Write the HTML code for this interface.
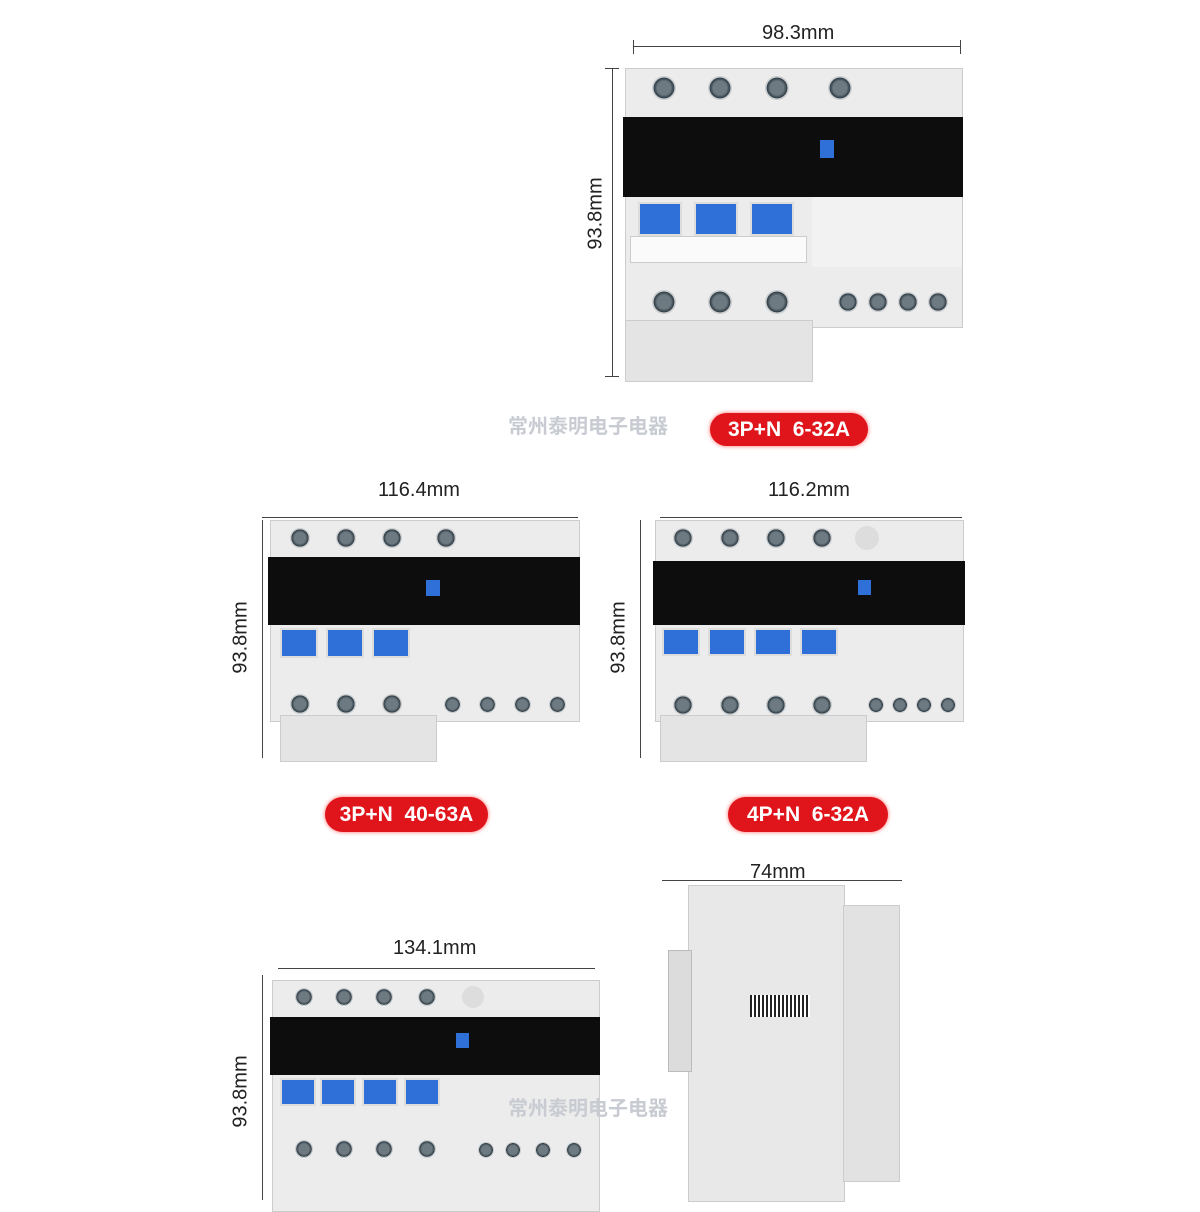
<!DOCTYPE html>
<html><head><meta charset="utf-8"><style>
body{margin:0;width:1200px;height:1200px;background:#fff;position:relative;overflow:hidden;font-family:"Liberation Sans","Noto Sans CJK SC",sans-serif}
.a{position:absolute}
.hl{position:absolute;height:1px;background:#444}
.vl{position:absolute;width:1px;background:#444}
.dim{position:absolute;font-size:20px;color:#222}
.rot{position:absolute;font-size:20px;color:#222;transform:rotate(-90deg);transform-origin:center}
.pill{position:absolute;background:#e0141b;color:#fff;font-weight:bold;font-size:21px;border-radius:18px;text-align:center;box-shadow:0 0 4px #f66}
.body{position:absolute;background:#ececec;border:1px solid #ccc}
.blk{position:absolute;background:#0d0d0d}
.scr{position:absolute;border-radius:50%;background:radial-gradient(circle,#6e7a82 0 40%,#2e3a42 60%,#c8cccf 62%)}
.sw{position:absolute;background:#2f6fd8;border:2px solid #ddd}
.wm{position:absolute;color:#c8ccd2;font-size:20px;font-weight:bold}
</style></head><body>

<!-- TOP -->
<div class="hl" style="left:633px;top:46px;width:327px"></div>
<div class="vl" style="left:633px;top:40px;height:14px"></div><div class="vl" style="left:960px;top:40px;height:14px"></div>
<div class="dim" style="left:762px;top:22px">98.3mm</div>
<div class="vl" style="left:612px;top:68px;height:308px"></div>
<div class="hl" style="left:605px;top:68px;width:14px"></div><div class="hl" style="left:605px;top:376px;width:14px"></div>
<div class="rot" style="left:560px;top:202px">93.8mm</div>
<div class="body" style="left:625px;top:68px;width:336px;height:258px"></div>
<div class="body" style="left:625px;top:320px;width:186px;height:60px;background:#e4e4e4"></div>
<div class="blk" style="left:623px;top:117px;width:340px;height:80px"></div>
<div class="a" style="left:812px;top:197px;width:150px;height:70px;background:#f2f2f2"></div>
<div class="a" style="left:820px;top:140px;width:14px;height:18px;background:#2f6fd8"></div>
<div class="scr" style="left:652px;top:76px;width:24px;height:24px"></div>
<div class="scr" style="left:708px;top:76px;width:24px;height:24px"></div>
<div class="scr" style="left:765px;top:76px;width:24px;height:24px"></div>
<div class="scr" style="left:828px;top:76px;width:24px;height:24px"></div>
<div class="sw" style="left:638px;top:202px;width:40px;height:30px"></div>
<div class="sw" style="left:694px;top:202px;width:40px;height:30px"></div>
<div class="sw" style="left:750px;top:202px;width:40px;height:30px"></div>
<div class="a" style="left:630px;top:236px;width:175px;height:25px;background:#fafafa;border:1px solid #ccc"></div>
<div class="scr" style="left:652px;top:290px;width:24px;height:24px"></div>
<div class="scr" style="left:708px;top:290px;width:24px;height:24px"></div>
<div class="scr" style="left:765px;top:290px;width:24px;height:24px"></div>
<div class="scr" style="left:838px;top:292px;width:20px;height:20px"></div>
<div class="scr" style="left:868px;top:292px;width:20px;height:20px"></div>
<div class="scr" style="left:898px;top:292px;width:20px;height:20px"></div>
<div class="scr" style="left:928px;top:292px;width:20px;height:20px"></div>
<div class="wm" style="left:508px;top:410px">常州泰明电子电器</div>
<div class="pill" style="left:710px;top:413px;width:158px;height:33px;line-height:33px">3P+N&nbsp; 6-32A</div>

<!-- MID LEFT -->
<div class="hl" style="left:262px;top:517px;width:316px"></div>
<div class="dim" style="left:378px;top:479px">116.4mm</div>
<div class="vl" style="left:262px;top:520px;height:238px"></div>
<div class="rot" style="left:205px;top:626px">93.8mm</div>
<div class="body" style="left:270px;top:520px;width:308px;height:200px"></div>
<div class="body" style="left:280px;top:715px;width:155px;height:45px;background:#e4e4e4"></div>
<div class="blk" style="left:268px;top:557px;width:312px;height:68px"></div>
<div class="a" style="left:426px;top:580px;width:14px;height:16px;background:#2f6fd8"></div>
<div class="scr" style="left:290px;top:528px;width:20px;height:20px"></div>
<div class="scr" style="left:336px;top:528px;width:20px;height:20px"></div>
<div class="scr" style="left:382px;top:528px;width:20px;height:20px"></div>
<div class="scr" style="left:436px;top:528px;width:20px;height:20px"></div>
<div class="sw" style="left:280px;top:628px;width:34px;height:26px"></div>
<div class="sw" style="left:326px;top:628px;width:34px;height:26px"></div>
<div class="sw" style="left:372px;top:628px;width:34px;height:26px"></div>
<div class="scr" style="left:290px;top:694px;width:20px;height:20px"></div>
<div class="scr" style="left:336px;top:694px;width:20px;height:20px"></div>
<div class="scr" style="left:382px;top:694px;width:20px;height:20px"></div>
<div class="scr" style="left:444px;top:696px;width:17px;height:17px"></div>
<div class="scr" style="left:479px;top:696px;width:17px;height:17px"></div>
<div class="scr" style="left:514px;top:696px;width:17px;height:17px"></div>
<div class="scr" style="left:549px;top:696px;width:17px;height:17px"></div>
<div class="pill" style="left:325px;top:797px;width:163px;height:35px;line-height:35px">3P+N&nbsp; 40-63A</div>

<!-- MID RIGHT -->
<div class="hl" style="left:660px;top:517px;width:302px"></div>
<div class="dim" style="left:768px;top:479px">116.2mm</div>
<div class="vl" style="left:640px;top:520px;height:238px"></div>
<div class="rot" style="left:583px;top:626px">93.8mm</div>
<div class="body" style="left:655px;top:520px;width:307px;height:200px"></div>
<div class="body" style="left:660px;top:715px;width:205px;height:45px;background:#e4e4e4"></div>
<div class="blk" style="left:653px;top:561px;width:312px;height:64px"></div>
<div class="a" style="left:858px;top:580px;width:13px;height:15px;background:#2f6fd8"></div>
<div class="scr" style="left:673px;top:528px;width:20px;height:20px"></div>
<div class="scr" style="left:720px;top:528px;width:20px;height:20px"></div>
<div class="scr" style="left:766px;top:528px;width:20px;height:20px"></div>
<div class="scr" style="left:812px;top:528px;width:20px;height:20px"></div>
<div class="a" style="left:855px;top:526px;width:24px;height:24px;border-radius:50%;background:#ddd"></div>
<div class="sw" style="left:662px;top:628px;width:34px;height:24px"></div>
<div class="sw" style="left:708px;top:628px;width:34px;height:24px"></div>
<div class="sw" style="left:754px;top:628px;width:34px;height:24px"></div>
<div class="sw" style="left:800px;top:628px;width:34px;height:24px"></div>
<div class="scr" style="left:673px;top:695px;width:20px;height:20px"></div>
<div class="scr" style="left:720px;top:695px;width:20px;height:20px"></div>
<div class="scr" style="left:766px;top:695px;width:20px;height:20px"></div>
<div class="scr" style="left:812px;top:695px;width:20px;height:20px"></div>
<div class="scr" style="left:868px;top:697px;width:16px;height:16px"></div>
<div class="scr" style="left:892px;top:697px;width:16px;height:16px"></div>
<div class="scr" style="left:916px;top:697px;width:16px;height:16px"></div>
<div class="scr" style="left:940px;top:697px;width:16px;height:16px"></div>
<div class="pill" style="left:728px;top:797px;width:160px;height:35px;line-height:35px">4P+N&nbsp; 6-32A</div>

<!-- BOTTOM LEFT -->
<div class="hl" style="left:278px;top:968px;width:317px"></div>
<div class="dim" style="left:393px;top:937px">134.1mm</div>
<div class="vl" style="left:262px;top:975px;height:225px"></div>
<div class="rot" style="left:205px;top:1080px">93.8mm</div>
<div class="body" style="left:272px;top:980px;width:326px;height:230px"></div>
<div class="blk" style="left:270px;top:1017px;width:330px;height:58px"></div>
<div class="a" style="left:456px;top:1033px;width:13px;height:15px;background:#2f6fd8"></div>
<div class="scr" style="left:295px;top:988px;width:18px;height:18px"></div>
<div class="scr" style="left:335px;top:988px;width:18px;height:18px"></div>
<div class="scr" style="left:375px;top:988px;width:18px;height:18px"></div>
<div class="scr" style="left:418px;top:988px;width:18px;height:18px"></div>
<div class="a" style="left:462px;top:986px;width:22px;height:22px;border-radius:50%;background:#ddd"></div>
<div class="sw" style="left:280px;top:1078px;width:32px;height:24px"></div>
<div class="sw" style="left:320px;top:1078px;width:32px;height:24px"></div>
<div class="sw" style="left:362px;top:1078px;width:32px;height:24px"></div>
<div class="sw" style="left:404px;top:1078px;width:32px;height:24px"></div>
<div class="scr" style="left:295px;top:1140px;width:18px;height:18px"></div>
<div class="scr" style="left:335px;top:1140px;width:18px;height:18px"></div>
<div class="scr" style="left:375px;top:1140px;width:18px;height:18px"></div>
<div class="scr" style="left:418px;top:1140px;width:18px;height:18px"></div>
<div class="scr" style="left:478px;top:1142px;width:16px;height:16px"></div>
<div class="scr" style="left:505px;top:1142px;width:16px;height:16px"></div>
<div class="scr" style="left:535px;top:1142px;width:16px;height:16px"></div>
<div class="scr" style="left:566px;top:1142px;width:16px;height:16px"></div>

<!-- BOTTOM RIGHT side -->
<div class="hl" style="left:662px;top:880px;width:240px"></div>
<div class="dim" style="left:750px;top:861px">74mm</div>
<div class="a" style="left:688px;top:885px;width:155px;height:315px;background:#e8e8e8;border:1px solid #ccc"></div>
<div class="a" style="left:843px;top:905px;width:55px;height:275px;background:#e2e2e2;border:1px solid #ccc"></div>
<div class="a" style="left:668px;top:950px;width:22px;height:120px;background:#dcdcdc;border:1px solid #bbb"></div>
<div class="a" style="left:750px;top:995px;width:60px;height:22px;background:repeating-linear-gradient(90deg,#222 0 2px,#fff 2px 4px)"></div>
<div class="wm" style="left:508px;top:1092px">常州泰明电子电器</div>
</body></html>
